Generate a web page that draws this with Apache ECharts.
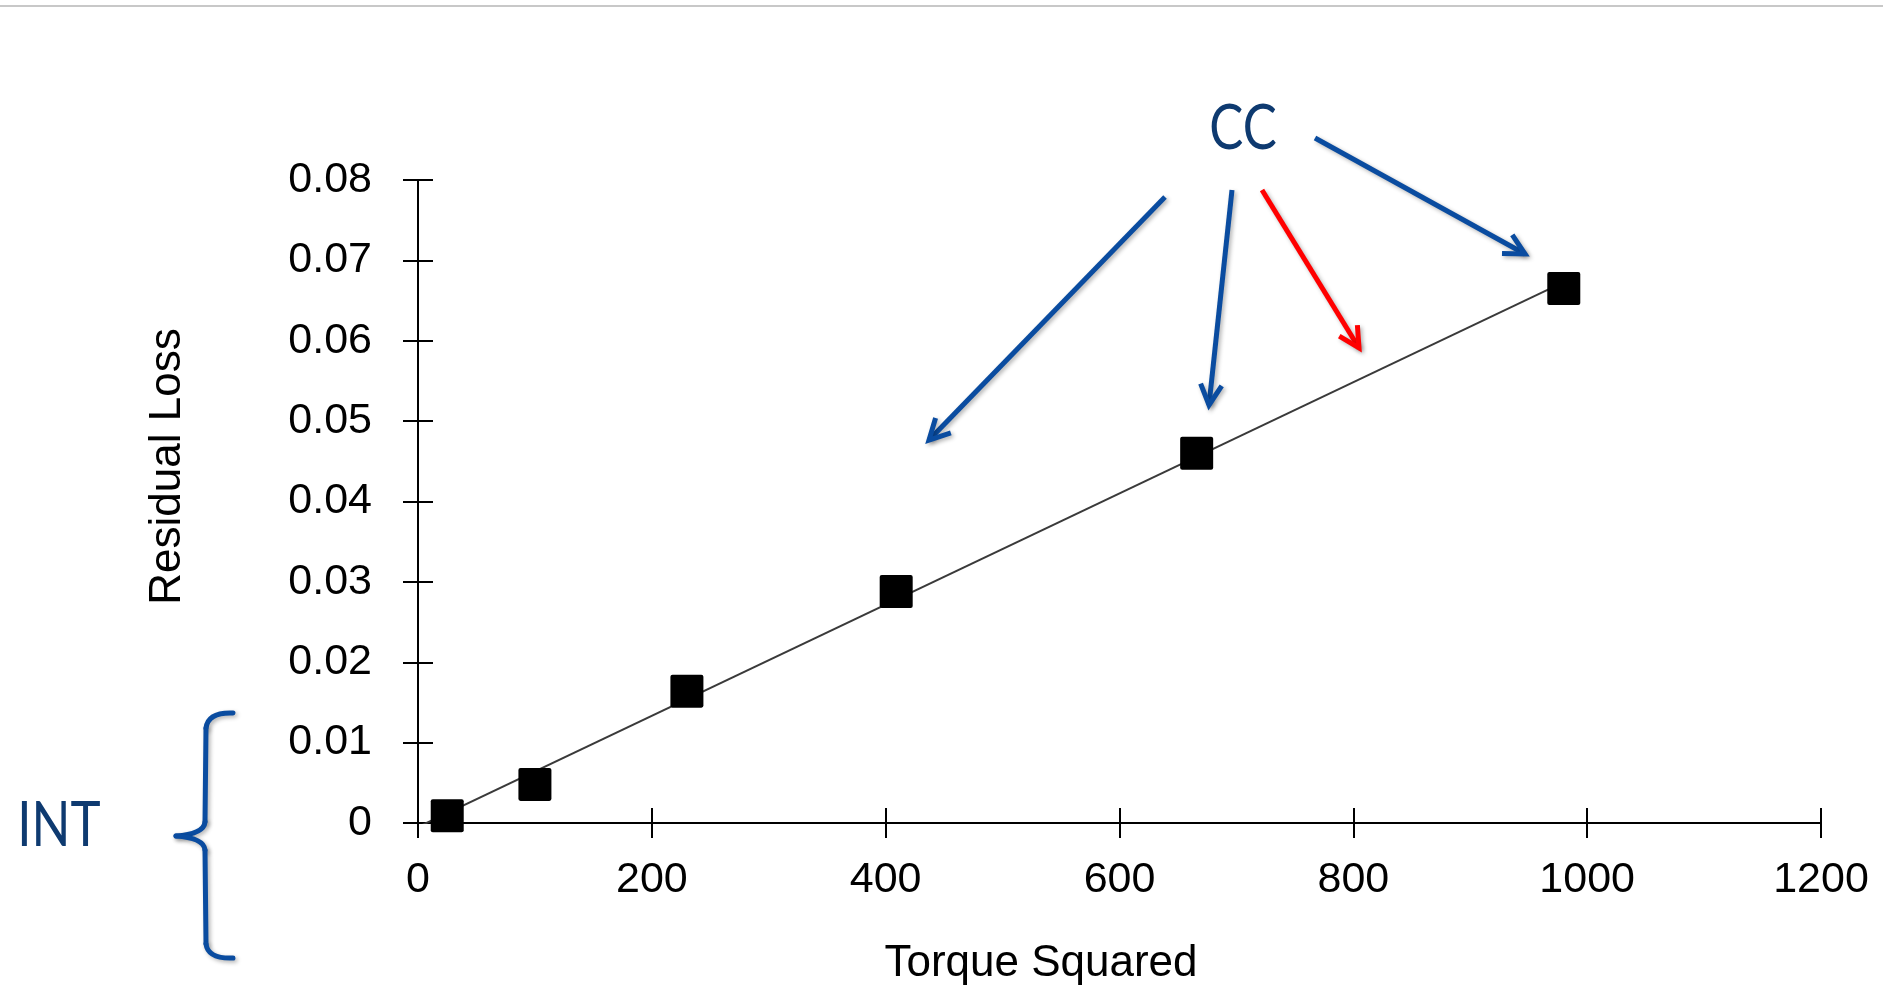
<!DOCTYPE html>
<html>
<head>
<meta charset="utf-8">
<title>Residual Loss vs Torque Squared</title>
<script src="https://cdn.jsdelivr.net/npm/echarts/dist/echarts.min.js"></script>
<style>
  html, body { margin: 0; padding: 0; background: #fff; }
  #chart { width: 1883px; height: 988px; }
</style>
</head>
<body>
<div id="chart"></div>
<script>
// measured points
const torqueSquared = [25, 100, 230, 409, 666, 980]
const residualLoss = [0.0009, 0.0048, 0.0164, 0.0288, 0.0460, 0.0665]

// fitted trend line at both ends
const fitX = [0, 980]
const fitY = [-0.0005, 0.0673]

const xTickLabels = ['0', '200', '400', '600', '800', '1000', '1200']
const yTickLabels = ['0', '0.01', '0.02', '0.03', '0.04', '0.05', '0.06', '0.07', '0.08']

const labelFont = "'Liberation Sans', Arial, sans-serif"
const noteFont = "Lato, 'Open Sans', sans-serif"
const navy = '#0e3a70'
const blue = '#0a4ca0'

// annotation arrows, pixel positions on the page
const arrows = [
  { from: [1165, 197], to: [929, 440], color: blue },
  { from: [1232, 190], to: [1209, 405], color: blue },
  { from: [1262, 190], to: [1359, 348], color: '#ff0000' },
  { from: [1315, 138], to: [1525, 254], color: blue },
]

// the curly brace next to INT: [x1, y1, cpx, cpy, x2, y2], straight when no control point
const braceParts = [
  [233, 713, 208, 712, 206, 728],
  [206, 728, null, null, 205, 822],
  [205, 822, 204, 834, 176, 836],
  [176, 836, 204, 838, 205, 850],
  [205, 850, null, null, 206, 944],
  [206, 944, 208, 959, 233, 958],
]

function arrowHead(from, to, len, spread) {
  const ang = Math.atan2(to[1] - from[1], to[0] - from[0])
  const a1 = ang + Math.PI - spread
  const a2 = ang + Math.PI + spread
  return [
    [to[0] + len * Math.cos(a1), to[1] + len * Math.sin(a1)],
    to,
    [to[0] + len * Math.cos(a2), to[1] + len * Math.sin(a2)],
  ]
}

const shadow = { shadowColor: 'rgba(0,0,0,0.3)', shadowBlur: 4, shadowOffsetX: 2, shadowOffsetY: 2 }

const graphics = [
  { type: 'line', shape: { x1: 0, y1: 6, x2: 1883, y2: 6 }, style: { stroke: '#c8c8c8', lineWidth: 2 } },
  {
    type: 'text', x: 1243, y: 129, scaleY: 1.2,
    style: { text: 'CC', font: '51px ' + noteFont, fill: navy, textAlign: 'center', textVerticalAlign: 'middle' }
  },
  {
    type: 'text', x: 59, y: 826, scaleY: 1.2,
    style: { text: 'INT', font: '51px ' + noteFont, fill: navy, textAlign: 'center', textVerticalAlign: 'middle' }
  },
]

braceParts.forEach(p => {
  const style = Object.assign({ stroke: blue, lineWidth: 5, fill: null, lineCap: 'round' }, shadow)
  if (p[2] === null) {
    graphics.push({ type: 'line', shape: { x1: p[0], y1: p[1], x2: p[4], y2: p[5] }, style })
  } else {
    graphics.push({
      type: 'bezierCurve',
      shape: { x1: p[0], y1: p[1], cpx1: p[2], cpy1: p[3], x2: p[4], y2: p[5] },
      style
    })
  }
})

arrows.forEach(a => {
  graphics.push({
    type: 'line',
    shape: { x1: a.from[0], y1: a.from[1], x2: a.to[0], y2: a.to[1] },
    style: Object.assign({ stroke: a.color, lineWidth: 5 }, shadow)
  })
  graphics.push({
    type: 'polyline',
    shape: { points: arrowHead(a.from, a.to, 23, 0.48) },
    style: Object.assign({ stroke: a.color, lineWidth: 5, fill: null, lineJoin: 'miter' }, shadow)
  })
})

const tickStyle = { color: '#000', width: 2 }

const option = {
  backgroundColor: '#fff',
  animation: false,
  grid: { left: 418, right: 62, top: 180, bottom: 165, containLabel: false, outerBoundsMode: 'none' },
  xAxis: [
    {
      type: 'value', min: 0, max: 1200, interval: 200,
      name: 'Torque Squared', nameLocation: 'middle', nameGap: 119,
      nameTextStyle: { fontFamily: labelFont, fontSize: 44, color: '#000', padding: [0, 157, 0, 0] },
      axisLine: { show: true, onZero: false, lineStyle: tickStyle },
      axisTick: { show: true, inside: false, length: 15, lineStyle: tickStyle },
      axisLabel: {
        fontFamily: labelFont, fontSize: 43, color: '#000', margin: 36,
        formatter: (v, i) => xTickLabels[i]
      },
      splitLine: { show: false },
    },
    {
      type: 'value', min: 0, max: 1200, interval: 200, position: 'bottom',
      axisLine: { show: false },
      axisTick: { show: true, inside: true, length: 15, lineStyle: tickStyle },
      axisLabel: { show: false },
      splitLine: { show: false },
    },
  ],
  yAxis: [
    {
      type: 'value', min: 0, max: 0.08, interval: 0.01,
      name: 'Residual Loss', nameLocation: 'middle', nameGap: 228, nameRotate: 90,
      nameTextStyle: { fontFamily: labelFont, fontSize: 44, color: '#000', padding: [0, 0, 0, 70] },
      axisLine: { show: true, onZero: false, lineStyle: tickStyle },
      axisTick: { show: true, inside: false, length: 15, lineStyle: tickStyle },
      axisLabel: {
        fontFamily: labelFont, fontSize: 43, color: '#000', margin: 46,
        formatter: (v, i) => yTickLabels[i]
      },
      splitLine: { show: false },
    },
    {
      type: 'value', min: 0, max: 0.08, interval: 0.01, position: 'left',
      axisLine: { show: false },
      axisTick: { show: true, inside: true, length: 15, lineStyle: tickStyle },
      axisLabel: { show: false },
      splitLine: { show: false },
    },
  ],
  series: [
    {
      type: 'line',
      data: fitX.map((x, i) => [x, fitY[i]]),
      showSymbol: false,
      clip: true,
      silent: true,
      lineStyle: { color: '#3a3a3a', width: 2 },
      z: 2,
    },
    {
      type: 'scatter',
      data: torqueSquared.map((x, i) => [x, residualLoss[i]]),
      symbol: 'path://M2,0 H30 Q32,0 32,2 V30 Q32,32 30,32 H2 Q0,32 0,30 V2 Q0,0 2,0 Z',
      symbolSize: 33,
      itemStyle: { color: '#000', opacity: 1 },
      z: 3,
    },
  ],
  graphic: graphics,
}

const chart = echarts.init(document.getElementById('chart'))
chart.setOption(option)
</script>
</body>
</html>
